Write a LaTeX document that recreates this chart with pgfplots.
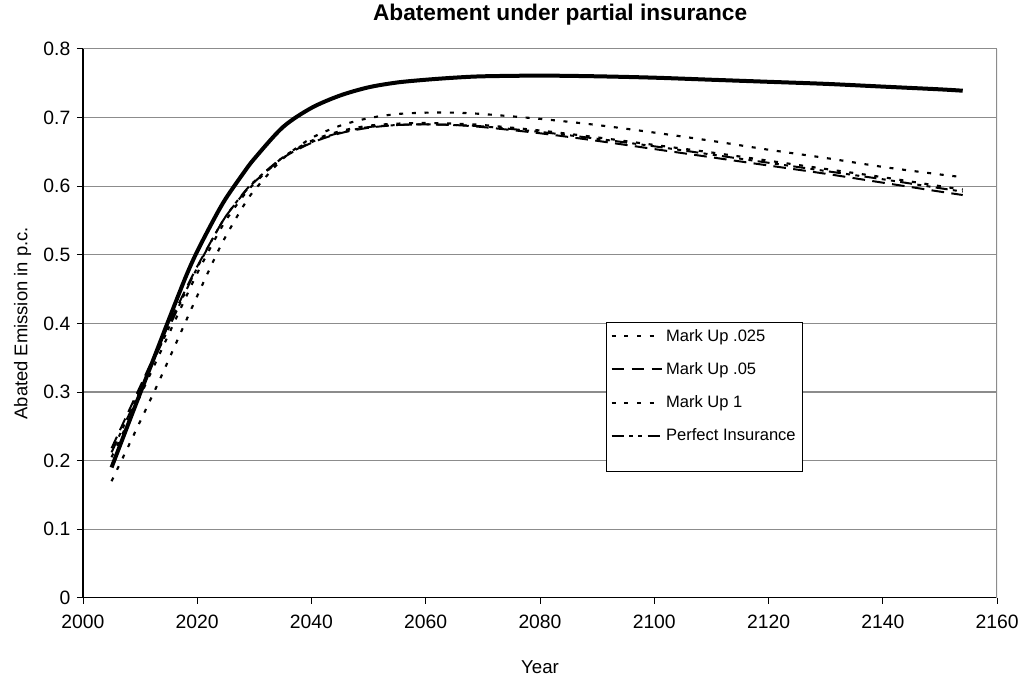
\documentclass[border=0pt]{standalone}
\usepackage{fontspec}
\setmainfont{Liberation Sans}
\usepackage{pgfplots}
\usepackage{pgfplotstable}
\pgfplotsset{compat=1.18}
\usetikzlibrary{calc}

% year, Mark Up .025, Mark Up .05, Mark Up 1, Perfect Insurance, solid curve
\pgfplotstableread{
year  muA   muB   muC   pins  solid
2005 0.205 0.218 0.170 0.212 0.190
2008 0.258 0.272 0.222 0.266 0.255
2010 0.294 0.308 0.257 0.302 0.298
2013 0.348 0.362 0.310 0.357 0.362
2015 0.384 0.398 0.347 0.393 0.405
2018 0.438 0.450 0.403 0.447 0.468
2020 0.473 0.483 0.440 0.481 0.505
2023 0.521 0.528 0.494 0.528 0.553
2025 0.550 0.556 0.527 0.556 0.582
2028 0.585 0.588 0.570 0.589 0.618
2030 0.604 0.606 0.594 0.607 0.640
2035 0.642 0.641 0.640 0.642 0.686
2040 0.666 0.663 0.670 0.664 0.714
2045 0.680 0.677 0.688 0.678 0.732
2050 0.688 0.685 0.699 0.686 0.744
2055 0.691 0.689 0.705 0.689 0.751
2060 0.692 0.690 0.707 0.690 0.755
2065 0.691 0.689 0.707 0.689 0.758
2070 0.689 0.686 0.705 0.687 0.760
2080 0.681 0.677 0.698 0.679 0.761
2090 0.671 0.666 0.689 0.669 0.760
2100 0.660 0.654 0.678 0.658 0.758
2110 0.649 0.642 0.666 0.646 0.755
2120 0.637 0.630 0.653 0.634 0.752
2130 0.625 0.618 0.641 0.622 0.749
2140 0.613 0.605 0.628 0.610 0.745
2150 0.600 0.592 0.617 0.597 0.741
2154 0.595 0.587 0.613 0.592 0.739
}\abate

\begin{document}
\begin{tikzpicture}
\begin{axis}[
    scale only axis,
    width=685.5pt, height=411.75pt,
    xmin=2000, xmax=2160, ymin=0, ymax=0.8,
    xtick={2000,2020,...,2160},
    ytick={0,0.1,...,0.8},
    axis lines*=left,
    axis line style={black, line width=0.8pt},
    tick align=outside,
    major tick length=4.5pt,
    tick style={black, line width=0.6pt},
    ymajorgrids=true,
    major grid style={draw=gray!90, line width=0.9pt},
    /pgf/number format/assume math mode=true,
    tick label style={font=\fontsize{14.5}{16}\selectfont},
    x tick label style={/pgf/number format/1000 sep={}, yshift=-5pt},
    y tick label style={/pgf/number format/fixed, xshift=-1.5pt},
    title={\textbf{Abatement under partial insurance}},
    title style={font=\fontsize{17}{20}\selectfont, at={(axis description cs:0.522,1)}, anchor=base, yshift=15pt},
    xlabel={Year},
    xlabel style={font=\fontsize{14}{16}\selectfont, at={(axis description cs:0.5,0)}, anchor=base, yshift=-57pt},
    ylabel={Abated Emission in p.c.},
    ylabel style={font=\fontsize{13.8}{16}\selectfont, at={(axis description cs:-0.066,0.5)}, anchor=center},
    legend cell align=left,
    legend style={at={(axis cs:2091.6,0.402)}, anchor=north west,
        draw=black, line width=0.6pt, fill=white,
        font=\fontsize{12.4}{15}\selectfont, row sep=10.5pt,
        inner xsep=3pt, inner ysep=3pt},
    legend image code/.code={\draw[#1] (0pt,0pt) -- (38pt,0pt);},
]
\addplot[black, line width=1.6pt, dash pattern=on 3pt off 6.5pt, smooth] table[x=year, y=muA] {\abate};
\addlegendentry{Mark Up .025}
\addplot[black, line width=1.5pt, dash pattern=on 9.5pt off 5.5pt, smooth] table[x=year, y=muB] {\abate};
\addlegendentry{Mark Up .05}
\addplot[black, line width=1.6pt, dash pattern=on 3pt off 6.5pt, smooth] table[x=year, y=muC] {\abate};
\addlegendentry{Mark Up 1}
\addplot[black, line width=1.5pt, dash pattern=on 9pt off 4pt on 3pt off 4pt on 3pt off 4pt, smooth] table[x=year, y=pins] {\abate};
\addlegendentry{Perfect Insurance}
\addplot[black, line width=3pt, smooth, forget plot] table[x=year, y=solid] {\abate};
\addlegendimage{empty legend}
\addlegendentry{}
\draw[gray!90, line width=0.9pt] (rel axis cs:1,0) -- (rel axis cs:1,1);
\end{axis}
\path ($(current axis.south west)+(-62.25pt,-63pt)$) rectangle ($(current axis.north east)+(20.25pt,34.5pt)$);
\end{tikzpicture}
\end{document}
